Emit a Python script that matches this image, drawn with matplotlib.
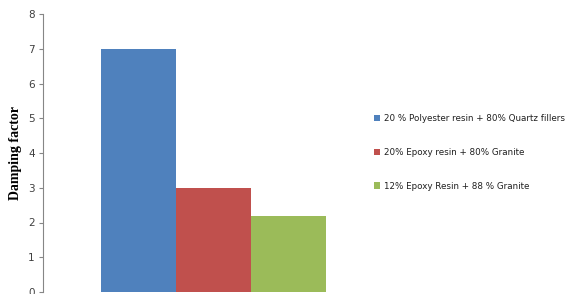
import matplotlib
matplotlib.use("Agg")
import matplotlib.pyplot as plt

labels = ["20 % Polyester resin + 80% Quartz fillers",
          "20% Epoxy resin + 80% Granite",
          "12% Epoxy Resin + 88 % Granite"]
values = [7.0, 3.0, 2.2]
colors = ["#4F81BD", "#C0504D", "#9BBB59"]
offsets = [-0.22, 0.0, 0.22]

fig = plt.figure(figsize=(5.73, 2.94), dpi=100)
ax = fig.add_axes([43 / 573, 1 - 292 / 294, (384 - 43) / 573, (292 - 14) / 294])

handles = []
for off, v, c, lab in zip(offsets, values, colors, labels):
    h = ax.bar(off, v, width=0.22, color=c, label=lab)
    handles.append(h)

ax.set_xlim(-0.5, 0.5)
ax.set_ylim(0, 8)
ax.set_yticks(range(0, 9))
ax.set_xticks([])
for s in ["top", "right", "bottom"]:
    ax.spines[s].set_visible(False)
ax.spines["left"].set_color("#868686")
ax.tick_params(axis="y", colors="#868686", labelcolor="#404040", labelsize=7.5,
               length=3, pad=3)
ax.set_ylabel("Damping factor", family="Liberation Serif", fontweight="bold",
              fontsize=10, labelpad=4)

fig.legend(handles=handles, labels=labels, loc="upper left",
           bbox_to_anchor=(366 / 573, 1 - 106 / 294), frameon=False,
           fontsize=6.3, handlelength=0.75, handleheight=0.75, handletextpad=0.4,
           labelspacing=2.85, labelcolor="#202020")

fig.savefig("out.png", dpi=100)
